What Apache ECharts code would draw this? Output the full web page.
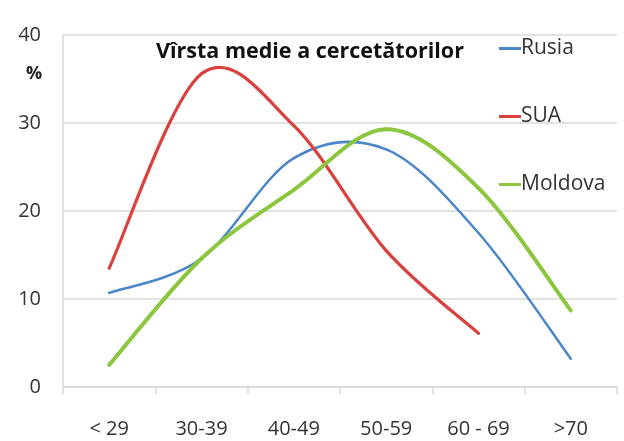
<!DOCTYPE html>
<html>
<head>
<meta charset="utf-8">
<script src="https://cdn.jsdelivr.net/npm/echarts@6/dist/echarts.min.js"></script>
<style>
  html, body { margin: 0; padding: 0; background: #fff; }
  #chart { width: 624px; height: 441px; }
</style>
</head>
<body>
<div id="chart"></div>
<script>
// grupe de varsta
const categories = ['< 29', '30-39', '40-49', '50-59', '60 - 69', '>70']
const rusia = [10.7, 14.6, 26.0, 27.0, 17.5, 3.2]
const sua = [13.5, 35.6, 29.7, 15.5, 6.1]
const moldova = [2.5, 14.6, 22.4, 29.3, 22.6, 8.7]
const yTicks = [0, 10, 20, 30, 40]

const chart = echarts.init(document.getElementById('chart'), null, { renderer: 'canvas' })

// curba netezita ca in Excel (Catmull-Rom -> bezier), puncte luate prin api.coord
function smoothLine(name, values, color, width) {
  return {
    name: name,
    type: 'custom',
    coordinateSystem: 'cartesian2d',
    data: values.map((v, i) => [i, v]),
    encode: { x: 0, y: 1 },
    itemStyle: { color: color },
    renderItem: function (params, api) {
      const i = params.dataIndex
      const n = values.length
      if (i >= n - 1) return null
      const pt = j => api.coord([j, values[j]])
      const p0 = pt(Math.max(i - 1, 0))
      const p1 = pt(i)
      const p2 = pt(i + 1)
      const p3 = pt(Math.min(i + 2, n - 1))
      return {
        type: 'bezierCurve',
        shape: {
          x1: p1[0], y1: p1[1],
          x2: p2[0], y2: p2[1],
          cpx1: p1[0] + (p2[0] - p0[0]) / 6,
          cpy1: p1[1] + (p2[1] - p0[1]) / 6,
          cpx2: p2[0] - (p3[0] - p1[0]) / 6,
          cpy2: p2[1] - (p3[1] - p1[1]) / 6
        },
        style: { fill: 'none', stroke: color, lineWidth: width, lineCap: 'round' }
      }
    }
  }
}

const option = {
  animation: false,
  title: {
    text: 'Vîrsta medie a cercetătorilor',
    left: 151,
    top: 36,
    textStyle: {
      fontFamily: 'Open Sans',
      fontWeight: 'bold',
      fontSize: 21.5,
      color: '#111'
    }
  },
  legend: {
    orient: 'vertical',
    left: 494,
    top: 33,
    itemGap: 47,
    itemWidth: 22,
    itemHeight: 3,
    icon: 'rect',
    textStyle: {
      fontFamily: 'Open Sans',
      fontSize: 21,
      color: '#333',
      padding: [0, 0, 0, -5]
    },
    data: ['Rusia', 'SUA', 'Moldova']
  },
  graphic: [{
    type: 'text',
    left: 26,
    top: 65,
    style: {
      text: '%',
      font: 'bold 18px "Open Sans"',
      fill: '#222'
    }
  }],
  grid: {
    left: 63,
    right: 7,
    top: 35,
    bottom: 54
  },
  xAxis: {
    type: 'category',
    data: categories,
    boundaryGap: true,
    axisLine: { lineStyle: { color: '#d9d9d9', width: 1.5 } },
    axisTick: { show: true, length: 7, lineStyle: { color: '#d9d9d9', width: 1.5 } },
    axisLabel: {
      margin: 32,
      fontFamily: 'Open Sans',
      fontSize: 20,
      color: '#333'
    },
    splitLine: { show: false }
  },
  yAxis: {
    type: 'value',
    min: 0,
    max: 40,
    interval: 10,
    axisLine: { show: true, lineStyle: { color: '#d9d9d9', width: 1.5 } },
    axisTick: { show: false },
    axisLabel: {
      margin: 22,
      fontFamily: 'Open Sans',
      fontSize: 20,
      color: '#333',
      formatter: v => yTicks.includes(v) ? String(v) : ''
    },
    splitLine: { lineStyle: { color: '#d9d9d9', width: 1.5 } }
  },
  series: [
    smoothLine('Rusia', rusia, '#4a86c8', 2.5),
    smoothLine('SUA', sua, '#d9413e', 3.2),
    smoothLine('Moldova', moldova, '#8cc63f', 4)
  ]
}

chart.setOption(option)
</script>
</body>
</html>
